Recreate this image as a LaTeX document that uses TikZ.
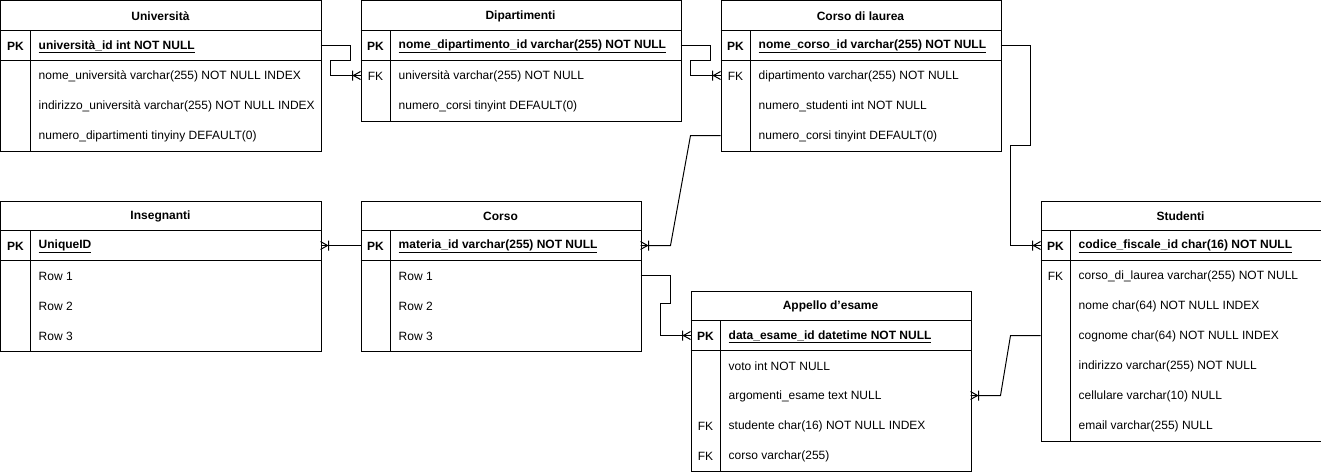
\documentclass[tikz,border=0pt]{standalone}
\usepackage{fontspec}
\setmainfont{Liberation Sans}
\usetikzlibrary{calc}
\tikzset{
  erline/.style={line width=1pt, draw=black},
  conn/.style={line width=1pt, draw=black, line join=miter},
  every node/.style={font=\fontsize{12}{14}\selectfont, inner sep=0pt, text=black},
  txt/.style={yshift=-1pt},
}
% #1 name, #2 x, #3 y, #4 width, #5 number of extra rows, #6 title, #7 pk text, #8 rows key/text
\newcommand\erbox[8]{%
  \node[erline, minimum width=#4pt, minimum height={(60+30*#5)*1pt}, anchor=north west] (#1) at (#2,#3) {};
  \draw[erline] (#2,#3+30) -- ++(#4,0);
  \draw[erline] (#2,#3+60) -- ++(#4,0);
  \draw[erline] (#2+30,#3+30) -- ++(0,{30+30*#5});
  \node[txt] (#1-t) at (#2+#4/2,#3+15) {\textbf{#6}};
  \node[txt] (#1-k0) at (#2+15,#3+45) {\textbf{PK}};
  \node[txt, anchor=west] (#1-r0) at (#2+38,#3+45) {\textbf{\underline{#7}}};
  \coordinate (#1-0w) at (#2,#3+45);
  \coordinate (#1-0e) at (#2+#4,#3+45);
  \foreach \k/\t [count=\i] in {#8} {
    \node[txt] (#1-k\i) at (#2+15,#3+45+30*\i) {\k};
    \node[txt, anchor=west] (#1-r\i) at (#2+38,#3+45+30*\i) {\t};
    \coordinate (#1-\i w) at (#2,#3+45+30*\i);
    \coordinate (#1-\i e) at (#2+#4,#3+45+30*\i);
  }
}
% crow's foot with bar; #1 point at entity edge, #2 direction of the line (+1 right, -1 left)
\newcommand\crowfoot[2]{%
  \draw[conn] ($(#1)+(#2*7,0)$) -- ($(#1)+(0,-4)$)
              ($(#1)+(#2*7,0)$) -- ($(#1)+(0,4)$)
              ($(#1)+(#2*8,-5)$) -- ($(#1)+(#2*8,5)$);
}
\begin{document}
\begin{tikzpicture}[x=1pt,y=-1pt]
\useasboundingbox (-0.5,-0.5) rectangle (1320.5,470.5);

\erbox{u}{0}{0}{320}{3}{Università}{università\_id int NOT NULL}
  {/nome\_università varchar(255) NOT NULL INDEX,
   /indirizzo\_università varchar(255) NOT NULL INDEX,
   /numero\_dipartimenti tinyiny DEFAULT(0)}

\erbox{d}{360}{0}{320}{2}{Dipartimenti}{nome\_dipartimento\_id varchar(255) NOT NULL}
  {FK/università varchar(255) NOT NULL,
   /numero\_corsi tinyint DEFAULT(0)}

\erbox{cl}{720}{0}{280}{3}{Corso di laurea}{nome\_corso\_id varchar(255) NOT NULL}
  {FK/dipartimento varchar(255) NOT NULL,
   /numero\_studenti int NOT NULL,
   /numero\_corsi tinyint DEFAULT(0)}

\erbox{i}{0}{200}{320}{3}{Insegnanti}{UniqueID}
  {/Row 1, /Row 2, /Row 3}

\erbox{co}{360}{200}{280}{3}{Corso}{materia\_id varchar(255) NOT NULL}
  {/Row 1, /Row 2, /Row 3}

\erbox{a}{690}{290}{280}{4}{Appello d\symbol{39}esame}{data\_esame\_id datetime NOT NULL}
  {/voto int NOT NULL,
   /argomenti\_esame text NULL,
   FK/studente char(16) NOT NULL INDEX,
   FK/corso varchar(255)}

\erbox{s}{1040}{200}{280}{6}{Studenti}{codice\_fiscale\_id char(16) NOT NULL}
  {FK/corso\_di\_laurea varchar(255) NOT NULL,
   /nome char(64) NOT NULL INDEX,
   /cognome char(64) NOT NULL INDEX,
   /indirizzo varchar(255) NOT NULL,
   /cellulare varchar(10) NULL,
   /email varchar(255) NULL}

% connectors
\draw[conn] (u-0e) -- ++(30,0) -- ++(0,15) -- ++(-20,0) -- ++(0,15) -- (d-1w);
\crowfoot{d-1w}{-1}
\draw[conn] (d-0e) -- ++(30,0) -- ++(0,15) -- ++(-20,0) -- ++(0,15) -- (cl-1w);
\crowfoot{cl-1w}{-1}
\draw[conn] (cl-0e) -- ++(30,0) -- ++(0,100) -- ++(-20,0) -- ++(0,100) -- (s-0w);
\crowfoot{s-0w}{-1}
\draw[conn] (co-0e) -- ++(30,0) -- ($(cl-3w)+(-30,0)$) -- (cl-3w);
\crowfoot{co-0e}{1}
\draw[conn] (i-0e) -- (co-0w);
\crowfoot{i-0e}{1}
\draw[conn] (co-1e) -- ++(30,0) -- ++(0,28) -- ++(-10,0) -- ++(0,32) -- (a-0w);
\crowfoot{a-0w}{-1}
\draw[conn] (a-2e) -- ++(30,0) -- ($(s-3w)+(-30,0)$) -- (s-3w);
\crowfoot{a-2e}{1}
\end{tikzpicture}
\end{document}
